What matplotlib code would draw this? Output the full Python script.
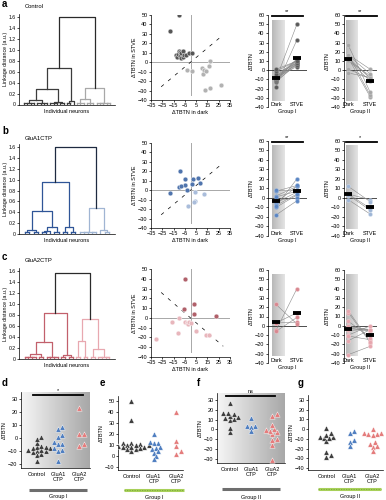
#!/usr/bin/env python3
"""Composite figure: linkage dendrograms, dTBTN dark-vs-STVE scatter,
paired Dark/STVE plots per group, and per-genotype swarm panels (d-g)."""
import numpy as np
import matplotlib
matplotlib.use("Agg")
import matplotlib.pyplot as plt
from matplotlib.colors import LinearSegmentedColormap
from matplotlib.ticker import FuncFormatter
from matplotlib.transforms import blended_transform_factory

plt.rcParams["font.family"] = ["Liberation Sans", "DejaVu Sans"]
plt.rcParams["font.size"] = 4
plt.rcParams["axes.linewidth"] = 0.5
plt.rcParams["xtick.major.width"] = 0.5
plt.rcParams["ytick.major.width"] = 0.5
plt.rcParams["xtick.major.size"] = 1.5
plt.rcParams["ytick.major.size"] = 1.5
plt.rcParams["xtick.major.pad"] = 1
plt.rcParams["ytick.major.pad"] = 1
plt.rcParams["axes.labelpad"] = 1

# ---- data: dTBTN per neuron (dark, STVE) ----
ctl_g1_dark = [-18, -10, -13, -12, -11, -10, -9, -9, -8, -8, -7, -7, -6, -4, -1, 1]
ctl_g1_stve = [33, 50, 8, 6, 9, 12, 11, 7, 4, 10, 12, 6, 8, 8, 10, 10]
ctl_g2_dark = [-3, 1, 10, 12, 11, 14, 16, 17, 13, 17, 27]
ctl_g2_stve = [-8, -9, -6, -8, -12, -9, -4, 1, -29, -27, -24]

a1_g1_dark = [-9, -5, 2, 7, 8, -5, 1, -10, -8, -3, -18]
a1_g1_stve = [20, 12, 12, 13, 8, 6, 7, 3, 4, 0, -3]
a1_g2_dark = [4, 4, 3, 12, -2]
a1_g2_stve = [-2, -11, -13, -4, -17]

a2_g1_dark = [-5, 3, -6, 3, 23]
a2_g1_stve = [40, 14, 9, 4, 2]
a2_g2_dark = [-10, -16, -5, -3, -2, -1, 0, -11, 5, 14, 16, -31]
a2_g2_stve = [0, -4, -4, -5, -6, -4, -5, -15, -13, -18, -17, -22]

# dendrograms: (height, left, right); an int is a tight cluster of n leaves
tree_ctl = (1.6, (0.67, (0.28, (0.08, 4, 4), (0.05, 3, 2)), (0.06, 2, 1)),
            (0.3, (0.1, 3, 3), (0.03, 3, 2)))
tree_a1 = (1.6, (0.96, (0.42, (0.07, 2, 2), (0.12, (0.05, 2, 1), 2)), (0.12, 2, 2)),
           (0.48, (0.03, 3, 2), (0.07, 1, 2)))
tree_a2 = (1.57, (0.84, (0.31, (0.09, (0.03, 2, 2), 2), (0.03, 2, 2)), (0.07, 2, 2)),
           (0.72, (0.33, 2, 2), (0.18, 2, (0.03, 2, 2))))

categories = ["Control", "GluA1\nCTP", "GluA2\nCTP"]
diag_span = [-26, 29]

W, H = 386, 500
fig = plt.figure(figsize=(W / 100, H / 100), dpi=100)


def px_axes(x0, y0, x1, y1):
    return fig.add_axes([x0 / W, 1 - y1 / H, (x1 - x0) / W, (y1 - y0) / H])


def only_spines(ax, keep):
    for side in ("top", "right", "left", "bottom"):
        ax.spines[side].set_visible(side in keep)


def draw_tree(ax, node, pos, color, lw=0.9):
    """Draw a subtree; pos[0] is the next free leaf index. Returns (x, h)."""
    if isinstance(node, int):
        xs = np.arange(pos[0], pos[0] + node)
        pos[0] += node
        if node == 1:
            return float(xs[0]), 0.0
        h = 0.03
        for x in xs:
            ax.plot([x, x], [0, h], color=color, lw=lw)
        ax.plot([xs[0], xs[-1]], [h, h], color=color, lw=lw)
        return float(xs.mean()), h
    h, left, right = node
    xl, hl = draw_tree(ax, left, pos, color, lw)
    xr, hr = draw_tree(ax, right, pos, color, lw)
    ax.plot([xl, xl, xr, xr], [hl, h, h, hr], color=color, lw=lw)
    return (xl + xr) / 2, h


def dendro_panel(ax, tree, c_dark, c_light, root_color):
    h, left, right = tree
    pos = [0]
    xl, hl = draw_tree(ax, left, pos, c_dark)
    xr, hr = draw_tree(ax, right, pos, c_light)
    ax.plot([xl, xl, xr, xr], [hl, h, h, hr], color=root_color, lw=0.9)
    ax.set_xlim(-1.5, pos[0] + 0.5)
    ax.set_ylim(0, 1.65)
    ax.set_yticks(np.arange(0, 1.61, 0.2))
    ax.yaxis.set_major_formatter(FuncFormatter(lambda v, _: "0" if v == 0 else f"{v:.1f}"))
    ax.tick_params(axis="y", labelsize=3.7, pad=0.6)
    ax.set_xticks([])
    ax.set_ylabel("Linkage distance (a.u.)", fontsize=3.8, labelpad=0.8)
    ax.set_xlabel("Individual neurons", labelpad=3)
    only_spines(ax, ("left", "bottom"))


def scatter_panel(ax, g1x, g1y, g2x, g2y, c1, c2, sign):
    ax.axvline(0, ymin=5 / 90, color="#a8a8a8", lw=0.7, zorder=1)
    ax.axhline(0, color="#a8a8a8", lw=0.7, zorder=1)
    dx = np.array(diag_span)
    ax.plot(dx, sign * dx, color="black", lw=0.5, ls=(0, (5, 8)), zorder=2)
    ax.scatter(g2x, g2y, s=12, color=c2, edgecolor="white", lw=0.3, zorder=3)
    ax.scatter(g1x, g1y, s=12, color=c1, edgecolor="white", lw=0.3, zorder=3)
    ax.set_xlim(-35, 35)
    ax.set_ylim(-40, 50)
    ax.set_xticks(range(-35, 36, 10))
    ax.set_yticks(range(-40, 51, 10))
    ax.set_xlabel("ΔTBTN in dark")
    ax.set_ylabel("ΔTBTN in STVE")
    only_spines(ax, ("left", "bottom"))


band_cmap = LinearSegmentedColormap.from_list("band", ["#b8b8b8", "#e4e4e4"])
bg_cmap = LinearSegmentedColormap.from_list("bg", ["#f6f6f6", "#a8a8a8"])


def paired_panel(ax, dark, stve, color, edge, xlim, band, group, sig=None):
    grad = np.linspace(0, 1, 64).reshape(1, -1)
    ax.imshow(grad, cmap=band_cmap, extent=(band[0], band[1], -33, 55),
              aspect="auto", zorder=0)
    ax.axhline(0, color="#303030", lw=0.6, zorder=1)
    for d, s in zip(dark, stve):
        ax.plot([0, 1], [d, s], color="#8a8a8a", lw=0.4, zorder=2)
    ax.scatter(np.zeros(len(dark)), dark, s=8, color=color, edgecolor=edge, lw=0.3, zorder=3)
    ax.scatter(np.ones(len(stve)), stve, s=8, color=color, edgecolor=edge, lw=0.3, zorder=3)
    ax.plot([0, 1], [np.mean(dark), np.mean(stve)], ls="none", marker="_",
            ms=6, mew=2.8, color="black", zorder=4)
    ax.set_xlim(*xlim)
    ax.set_ylim(-40, 60)
    ax.set_yticks(range(-40, 61, 10))
    ax.set_xticks([])
    ax.text(0, -37, "Dark", ha="center", va="center")
    ax.text(1, -37, "STVE", ha="center", va="center")
    ax.set_xlabel(group, labelpad=1.5)
    ax.set_ylabel("ΔTBTN")
    if sig:
        ax.plot([band[0], 1.3], [59, 59], color="black", lw=1.3, clip_on=False)
        ax.text(0.55, 60.5, sig, ha="center", va="bottom", fontsize=4)
    only_spines(ax, ("left",))


def swarm_x(ax, xc, vals, d_px=3.6):
    """Beeswarm: push points sideways until they no longer overlap."""
    tr = ax.transData
    placed, out = [], np.zeros(len(vals))
    for i in np.argsort(vals):
        px, py = tr.transform((xc, vals[i]))
        for k in range(40):
            off = ((k + 1) // 2) * (1 if k % 2 else -1) * d_px * 0.6
            cx = px + off
            if all(np.hypot(cx - qx, py - qy) >= d_px for qx, qy in placed):
                break
        placed.append((cx, py))
        out[i] = tr.inverted().transform((cx, py))[0]
    return out


tri_colors = ["#3e3e3e", "#4f7ec0", "#e47c7c"]


def swarm_panel(ax, groups, xlim, ylim, yticks, gradient, group, bar_style,
                bar_y, text_y, sig=None):
    if gradient:
        ax.imshow(np.linspace(0, 1, 64).reshape(1, -1), cmap=bg_cmap,
                  extent=(0, 1, 0, 1), transform=ax.transAxes, aspect="auto", zorder=0)
    ax.set_xlim(*xlim)
    ax.set_ylim(*ylim)
    for i, (vals, c) in enumerate(zip(groups, tri_colors)):
        xs = swarm_x(ax, i, np.asarray(vals, float))
        ax.scatter(xs, vals, marker="^", s=15, color=c, edgecolor="white",
                   lw=0.3, zorder=3)
    ax.set_yticks(yticks)
    ax.set_xticks(range(len(categories)))
    ax.set_xticklabels(categories, linespacing=0.95)
    ax.tick_params(axis="x", length=0, pad=3)
    ax.set_ylabel("ΔTBTN")
    only_spines(ax, ("left", "bottom"))
    bt = blended_transform_factory(ax.transData, ax.transAxes)
    if bar_style == "gray":
        ax.plot([-0.35, 2.35], [bar_y, bar_y], color="#6e6e6e", lw=2.2,
                transform=bt, clip_on=False, solid_capstyle="butt")
    else:
        ax.plot([-0.35, 2.35], [bar_y, bar_y], color="#a8d05a", lw=2.2,
                transform=bt, clip_on=False, solid_capstyle="butt")
        ax.plot([-0.35, 2.35], [bar_y, bar_y], color="#78a836", lw=0.6,
                ls=(0, (1.5, 1.5)), transform=bt, clip_on=False)
    ax.text(1, text_y, group, ha="center", va="center", transform=bt)
    if sig:
        ax.plot([-0.2, 2.15], [0.96, 0.96], color="black", lw=1.3,
                transform=bt, clip_on=False)
        ax.text(1, 0.99, sig, ha="center", va="bottom", transform=bt)


# ---- row a / b / c ----
rows = [
    dict(top=14, bot=104.5, tree=tree_ctl, dc=("#3c3c3c", "#a8a8a8", "#2a2a2a"),
         sy=(15, 100), pts=(ctl_g1_dark, ctl_g1_stve, ctl_g2_dark, ctl_g2_stve),
         sc=("#565656", "#b2b2b2"), sign=1, py=(15, 107), sig=("**", "**"),
         pc=(("#5a5a5a", "#9a9a9a"), ("#a6a6a6", "#d0d0d0")),
         title="Control", letter="a", ly=4, ty=6),
    dict(top=144.3, bot=234, tree=tree_a1, dc=("#2f5597", "#a0b5d3", "#1e2a40"),
         sy=(143, 228), pts=(a1_g1_dark, a1_g1_stve, a1_g2_dark, a1_g2_stve),
         sc=("#4f74ad", "#aabddb"), sign=1, py=(140.7, 236), sig=("**", "*"),
         pc=(("#5b86c4", "#a8c0e0"), ("#9fb6d6", "#d4e0f0")),
         title="GluA1CTP", letter="b", ly=131, ty=138),
    dict(top=268.2, bot=359, tree=tree_a2, dc=("#c2606c", "#e8a8b0", "#2a2a2a"),
         sy=(269, 357), pts=(a2_g1_dark, a2_g1_stve, a2_g2_dark, a2_g2_stve),
         sc=("#b0606a", "#e8b6bc"), sign=-1, py=(270, 363), sig=(None, None),
         pc=(("#d88890", "#f0c4c8"), ("#e6a6ae", "#f6d4d8")),
         title="GluA2CTP", letter="c", ly=257, ty=261),
]

for r in rows:
    ax = px_axes(19, r["top"], 115, r["bot"])
    dendro_panel(ax, r["tree"], *r["dc"])
    fig.text(25 / W, 1 - r["ty"] / H, r["title"], va="center", fontsize=4.2)
    fig.text(2 / W, 1 - r["ly"] / H, r["letter"], va="center", fontsize=7,
             fontweight="bold")

    ax = px_axes(151, r["sy"][0], 230, r["sy"][1])
    g1x, g1y, g2x, g2y = r["pts"]
    scatter_panel(ax, g1x, g1y, g2x, g2y, *r["sc"], r["sign"])

    ax = px_axes(268, r["py"][0], 307, r["py"][1])
    paired_panel(ax, g1x, g1y, *r["pc"][0], (-0.38, 1.48), (-0.2, 0.38),
                 "Group I", r["sig"][0])
    ax = px_axes(344, r["py"][0], 377, r["py"][1])
    paired_panel(ax, g2x, g2y, *r["pc"][1], (-0.2, 1.31), (-0.13, 0.38),
                 "Group II", r["sig"][1])

# ---- row d-g ----
ax = px_axes(21, 392, 90, 468)
swarm_panel(ax, [ctl_g1_dark, a1_g1_dark, a2_g1_dark], (-0.75, 2.5), (-23, 35),
            range(-20, 31, 10), True, "Group I", "gray", -0.29, -0.38, sig="*")
ax = px_axes(118, 396, 183, 470)
swarm_panel(ax, [ctl_g1_stve, a1_g1_stve, a2_g1_stve], (-0.6, 2.3), (-13, 55),
            range(-10, 51, 10), False, "Group I", "green", -0.27, -0.37)
ax = px_axes(217, 393, 285, 463)
swarm_panel(ax, [ctl_g2_dark, a1_g2_dark, a2_g2_dark], (-0.6, 2.6), (-34, 37),
            range(-30, 31, 10), True, "Group II", "gray", -0.37, -0.49, sig="ns")
ax = px_axes(308, 395, 383, 470)
swarm_panel(ax, [ctl_g2_stve, a1_g2_stve, a2_g2_stve], (-0.8, 2.45), (-42, 35),
            range(-40, 31, 10), False, "Group II", "green", -0.25, -0.35)

for letter, x in (("d", 2), ("e", 100), ("f", 197), ("g", 298)):
    fig.text(x / W, 1 - 383 / H, letter, va="center", fontsize=7, fontweight="bold")

fig.savefig("out.png", dpi=100)
